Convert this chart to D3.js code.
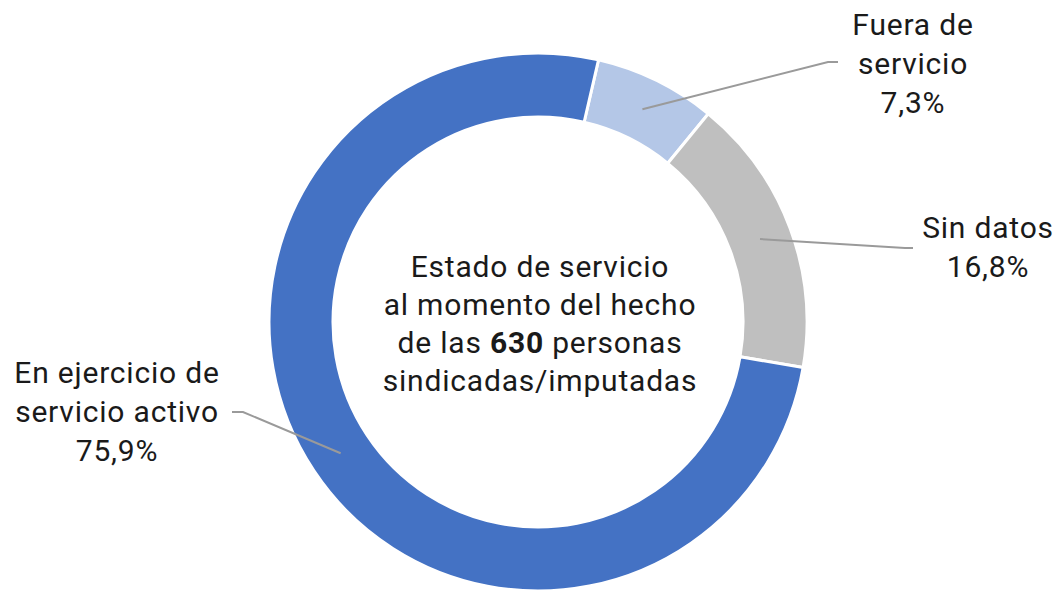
<!DOCTYPE html>
<html>
<head>
<meta charset="utf-8">
<script src="https://cdn.jsdelivr.net/npm/d3@7"></script>
<style>
  html, body { margin: 0; padding: 0; background: #fff; }
  svg { display: block; }
  text { font-family: Roboto, "Noto Sans", sans-serif; fill: #1a1a1a; letter-spacing: 0.8px; }
</style>
</head>
<body>
<svg id="chart" width="1061" height="592"></svg>
<script>
// Data: service status of the 630 accused people (percent)
const categories = ["Fuera de servicio", "Sin datos", "En ejercicio de servicio activo"];
const values = [7.3, 16.8, 75.9];
const valueLabels = ["7,3%", "16,8%", "75,9%"];
const nameLines = [["Fuera de", "servicio"], ["Sin datos"], ["En ejercicio de", "servicio activo"]];
const colors = ["#B4C7E7", "#BFBFBF", "#4472C4"];

// Layout of the callout labels (text anchor + elbow of the leader line)
const labelLayout = [
  { x: 913, y: 35, elbow: [828, 62], end: [838, 62] },
  { x: 988, y: 238, elbow: [905, 248], end: [913, 248] },
  { x: 117, y: 383, elbow: [243, 412], end: [232, 412] }
];

const W = 1061, H = 592;
const cx = 538, cy = 322;
const outerR = 269, innerR = 205;
const startDeg = 13;
const lineH = 39;
const fontSize = 30;

const svg = d3.select("#chart");
const g = svg.append("g").attr("transform", `translate(${cx},${cy})`);

const data = categories.map((c, i) => ({ name: c, value: values[i], i }));

const pie = d3.pie()
  .value(d => d.value)
  .sort(null)
  .startAngle(startDeg * Math.PI / 180)
  .endAngle(startDeg * Math.PI / 180 + 2 * Math.PI);

const arc = d3.arc().innerRadius(innerR).outerRadius(outerR);
const arcs = pie(data);

g.selectAll("path.slice")
  .data(arcs)
  .join("path")
  .attr("class", "slice")
  .attr("d", arc)
  .attr("fill", d => colors[d.data.i])
  .attr("stroke", "#fff")
  .attr("stroke-width", 3)
  .attr("stroke-linejoin", "round");

// Leader lines from each slice centroid to its label
const line = d3.line();
arcs.forEach(a => {
  const L = labelLayout[a.data.i];
  const [px, py] = arc.centroid(a);
  const pts = [[px + cx, py + cy], L.elbow, L.end];
  svg.append("path")
    .attr("d", line(pts))
    .attr("fill", "none")
    .attr("stroke", "#9a9a9a")
    .attr("stroke-width", 2);
});

// Callout labels
arcs.forEach(a => {
  const i = a.data.i;
  const L = labelLayout[i];
  const lines = nameLines[i].concat([valueLabels[i]]);
  const t = svg.append("text")
    .attr("text-anchor", "middle")
    .attr("font-size", fontSize);
  lines.forEach((s, k) => {
    t.append("tspan").attr("x", L.x).attr("y", L.y + k * lineH).text(s);
  });
});

// Centre caption
const total = 630;
const center = svg.append("text")
  .attr("text-anchor", "middle")
  .attr("font-size", fontSize);
center.append("tspan").attr("x", cx + 2).attr("y", 277).text("Estado de servicio");
center.append("tspan").attr("x", cx + 2).attr("y", 315).text("al momento del hecho");
const l3 = center.append("tspan").attr("x", cx + 2).attr("y", 353);
l3.append("tspan").text("de las ");
l3.append("tspan").attr("font-weight", "bold").text(total);
l3.append("tspan").text(" personas");
center.append("tspan").attr("x", cx + 2).attr("y", 391).text("sindicadas/imputadas");
</script>
</body>
</html>
